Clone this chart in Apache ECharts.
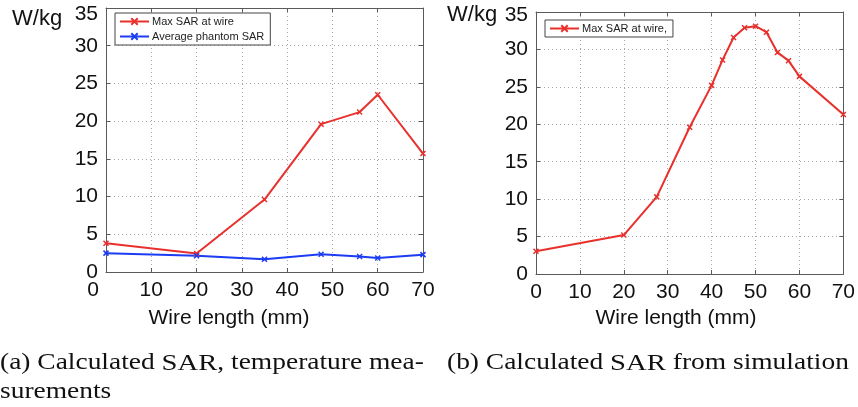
<!DOCTYPE html>
<html>
<head>
<meta charset="utf-8">
<script src="https://cdn.jsdelivr.net/npm/echarts@6/dist/echarts.min.js"></script>
<style>
  html, body { margin: 0; padding: 0; background: #fff; }
  #chart { width: 858px; height: 407px; }
</style>
</head>
<body>
<div id="chart"></div>
<script>
// (a) temperature measurements: wire length (mm) vs SAR (W/kg)
const measLength = [0, 20, 35, 47.5, 56, 60, 70];
const measMaxSar = [3.8, 2.45, 9.6, 19.6, 21.2, 23.5, 15.7];
const measAvgSar = [2.5, 2.15, 1.7, 2.35, 2.05, 1.85, 2.3];

// (b) simulation: wire length (mm) vs max SAR at wire (W/kg)
const simLength = [0, 20, 27.5, 35, 40, 42.5, 45, 47.5, 50, 52.5, 55, 57.5, 60, 70];
const simMaxSar = [3.05, 5.2, 10.3, 19.6, 25.2, 28.6, 31.6, 32.9, 33.1, 32.3, 29.6, 28.5, 26.4, 21.3];

const xTicks = { min: 0, max: 70, interval: 10 };
const yTicks = { min: 0, max: 35, interval: 5 };

const RED = '#e8302c';
const BLUE = '#1c3cf4';
const SANS = 'Liberation Sans';
const SERIF = 'Liberation Serif';
const CROSS = 'path://M0,0L10,10M10,0L0,10';
const FRAME = '#5a5a5a';

function pairs(xs, ys) { return xs.map((x, i) => [x, ys[i]]); }

function mainX(grid, shiftZero) {
  return {
    gridIndex: grid, type: 'value', position: 'bottom',
    min: xTicks.min, max: xTicks.max, interval: xTicks.interval,
    axisLine: { show: true, onZero: false, lineStyle: { color: FRAME, width: 1 } },
    axisTick: { show: true, inside: true, length: 4, lineStyle: { color: FRAME } },
    splitLine: { show: true, lineStyle: { color: '#a8a8a8', width: 1, type: [1, 3] } },
    axisLabel: {
      fontFamily: SANS, fontSize: 21, color: '#111', margin: 8,
      formatter: v => (shiftZero && v === 0) ? '{z|0}' : String(v),
      rich: { z: { fontFamily: SANS, fontSize: 21, color: '#111', padding: [0, 26, 0, 0] } }
    }
  };
}
function mainY(grid, topDrop) {
  return {
    gridIndex: grid, type: 'value', position: 'left',
    min: yTicks.min, max: yTicks.max, interval: yTicks.interval,
    axisLine: { show: true, onZero: false, lineStyle: { color: FRAME, width: 1 } },
    axisTick: { show: true, inside: true, length: 4, lineStyle: { color: FRAME } },
    splitLine: { show: true, lineStyle: { color: '#a8a8a8', width: 1, type: [1, 3] } },
    axisLabel: {
      fontFamily: SANS, fontSize: 21, color: '#111', margin: 8,
      formatter: v => v === yTicks.max ? '{t|' + v + '}' : String(v),
      rich: { t: { fontFamily: SANS, fontSize: 21, color: '#111', padding: [topDrop * 2, 0, 0, 0] } }
    }
  };
}
function mirrorX(grid) {
  return {
    gridIndex: grid, type: 'value', position: 'top',
    min: xTicks.min, max: xTicks.max, interval: xTicks.interval,
    axisLine: { show: true, onZero: false, lineStyle: { color: FRAME, width: 1 } },
    axisTick: { show: true, inside: true, length: 4, lineStyle: { color: FRAME } },
    axisLabel: { show: false }, splitLine: { show: false }
  };
}
function mirrorY(grid) {
  return {
    gridIndex: grid, type: 'value', position: 'right',
    min: yTicks.min, max: yTicks.max, interval: yTicks.interval,
    axisLine: { show: true, onZero: false, lineStyle: { color: FRAME, width: 1 } },
    axisTick: { show: true, inside: true, length: 4, lineStyle: { color: FRAME } },
    axisLabel: { show: false }, splitLine: { show: false }
  };
}
function lineSeries(name, xi, data, color) {
  return {
    name: name, type: 'line', xAxisIndex: xi, yAxisIndex: xi,
    data: data, symbol: CROSS, symbolSize: 5, showSymbol: true,
    lineStyle: { color: color, width: 2 },
    itemStyle: { color: color, borderColor: color, borderWidth: 1.5 },
    emphasis: { disabled: true }, animation: false, z: 3
  };
}
function legendBox(names, left, top) {
  return {
    data: names, orient: 'vertical', left: left, top: top,
    itemWidth: 29, itemHeight: 8, itemGap: 4,
    padding: [3, 6, 3, 4],
    borderColor: '#444', borderWidth: 1, backgroundColor: '#fff',
    textStyle: { fontFamily: SANS, fontSize: 11, color: '#222', padding: [0, 0, 0, -2] },
    selectedMode: false
  };
}
// caption text set in a serif face, widened to the caption's measure
function caption(text, x, y) {
  return {
    type: 'text', x: x, y: y, scaleX: 1.22, scaleY: 1,
    style: {
      text: text, fontFamily: SERIF, fontSize: 22.5, fill: '#111',
      align: 'left', verticalAlign: 'middle',
      rich: { s: { fontFamily: SERIF, fontSize: 23.5, fill: '#111' } }
    }
  };
}

const chart = echarts.init(document.getElementById('chart'), null, { renderer: 'canvas' });
chart.setOption({
  animation: false,
  backgroundColor: '#fff',
  grid: [
    { left: 106, top: 8, width: 317, height: 264 },
    { left: 536, top: 12, width: 311, height: 262 }
  ],
  xAxis: [mainX(0, true), mainX(1, false), mirrorX(0), mirrorX(1)],
  yAxis: [mainY(0, 6), mainY(1, 3), mirrorY(0), mirrorY(1)],
  legend: [
    legendBox(['Max SAR at wire', 'Average phantom SAR'], 115, 13),
    legendBox(['Max SAR at wire,'], 545, 20)
  ],
  series: [
    lineSeries('Max SAR at wire', 0, pairs(measLength, measMaxSar), RED),
    lineSeries('Average phantom SAR', 0, pairs(measLength, measAvgSar), BLUE),
    lineSeries('Max SAR at wire,', 1, pairs(simLength, simMaxSar), RED)
  ],
  graphic: [
    { type: 'text', x: 12, y: 18.5, style: { text: 'W/kg', font: '22px "Liberation Sans"', fill: '#111', verticalAlign: 'middle' } },
    { type: 'text', x: 447, y: 15, style: { text: 'W/kg', font: '22px "Liberation Sans"', fill: '#111', verticalAlign: 'middle' } },
    { type: 'text', x: 229, y: 318, style: { text: 'Wire length (mm)', font: '21px "Liberation Sans"', fill: '#111', align: 'center', verticalAlign: 'middle' } },
    { type: 'text', x: 676, y: 318, style: { text: 'Wire length (mm)', font: '21px "Liberation Sans"', fill: '#111', align: 'center', verticalAlign: 'middle' } },
    caption('(a) Calculated {s|SAR}, temperature mea-', 0, 363.5),
    caption('surements', 0, 392.5),
    caption('(b) Calculated {s|SAR} from simulation', 447, 363.5)
  ]
});
</script>
</body>
</html>
